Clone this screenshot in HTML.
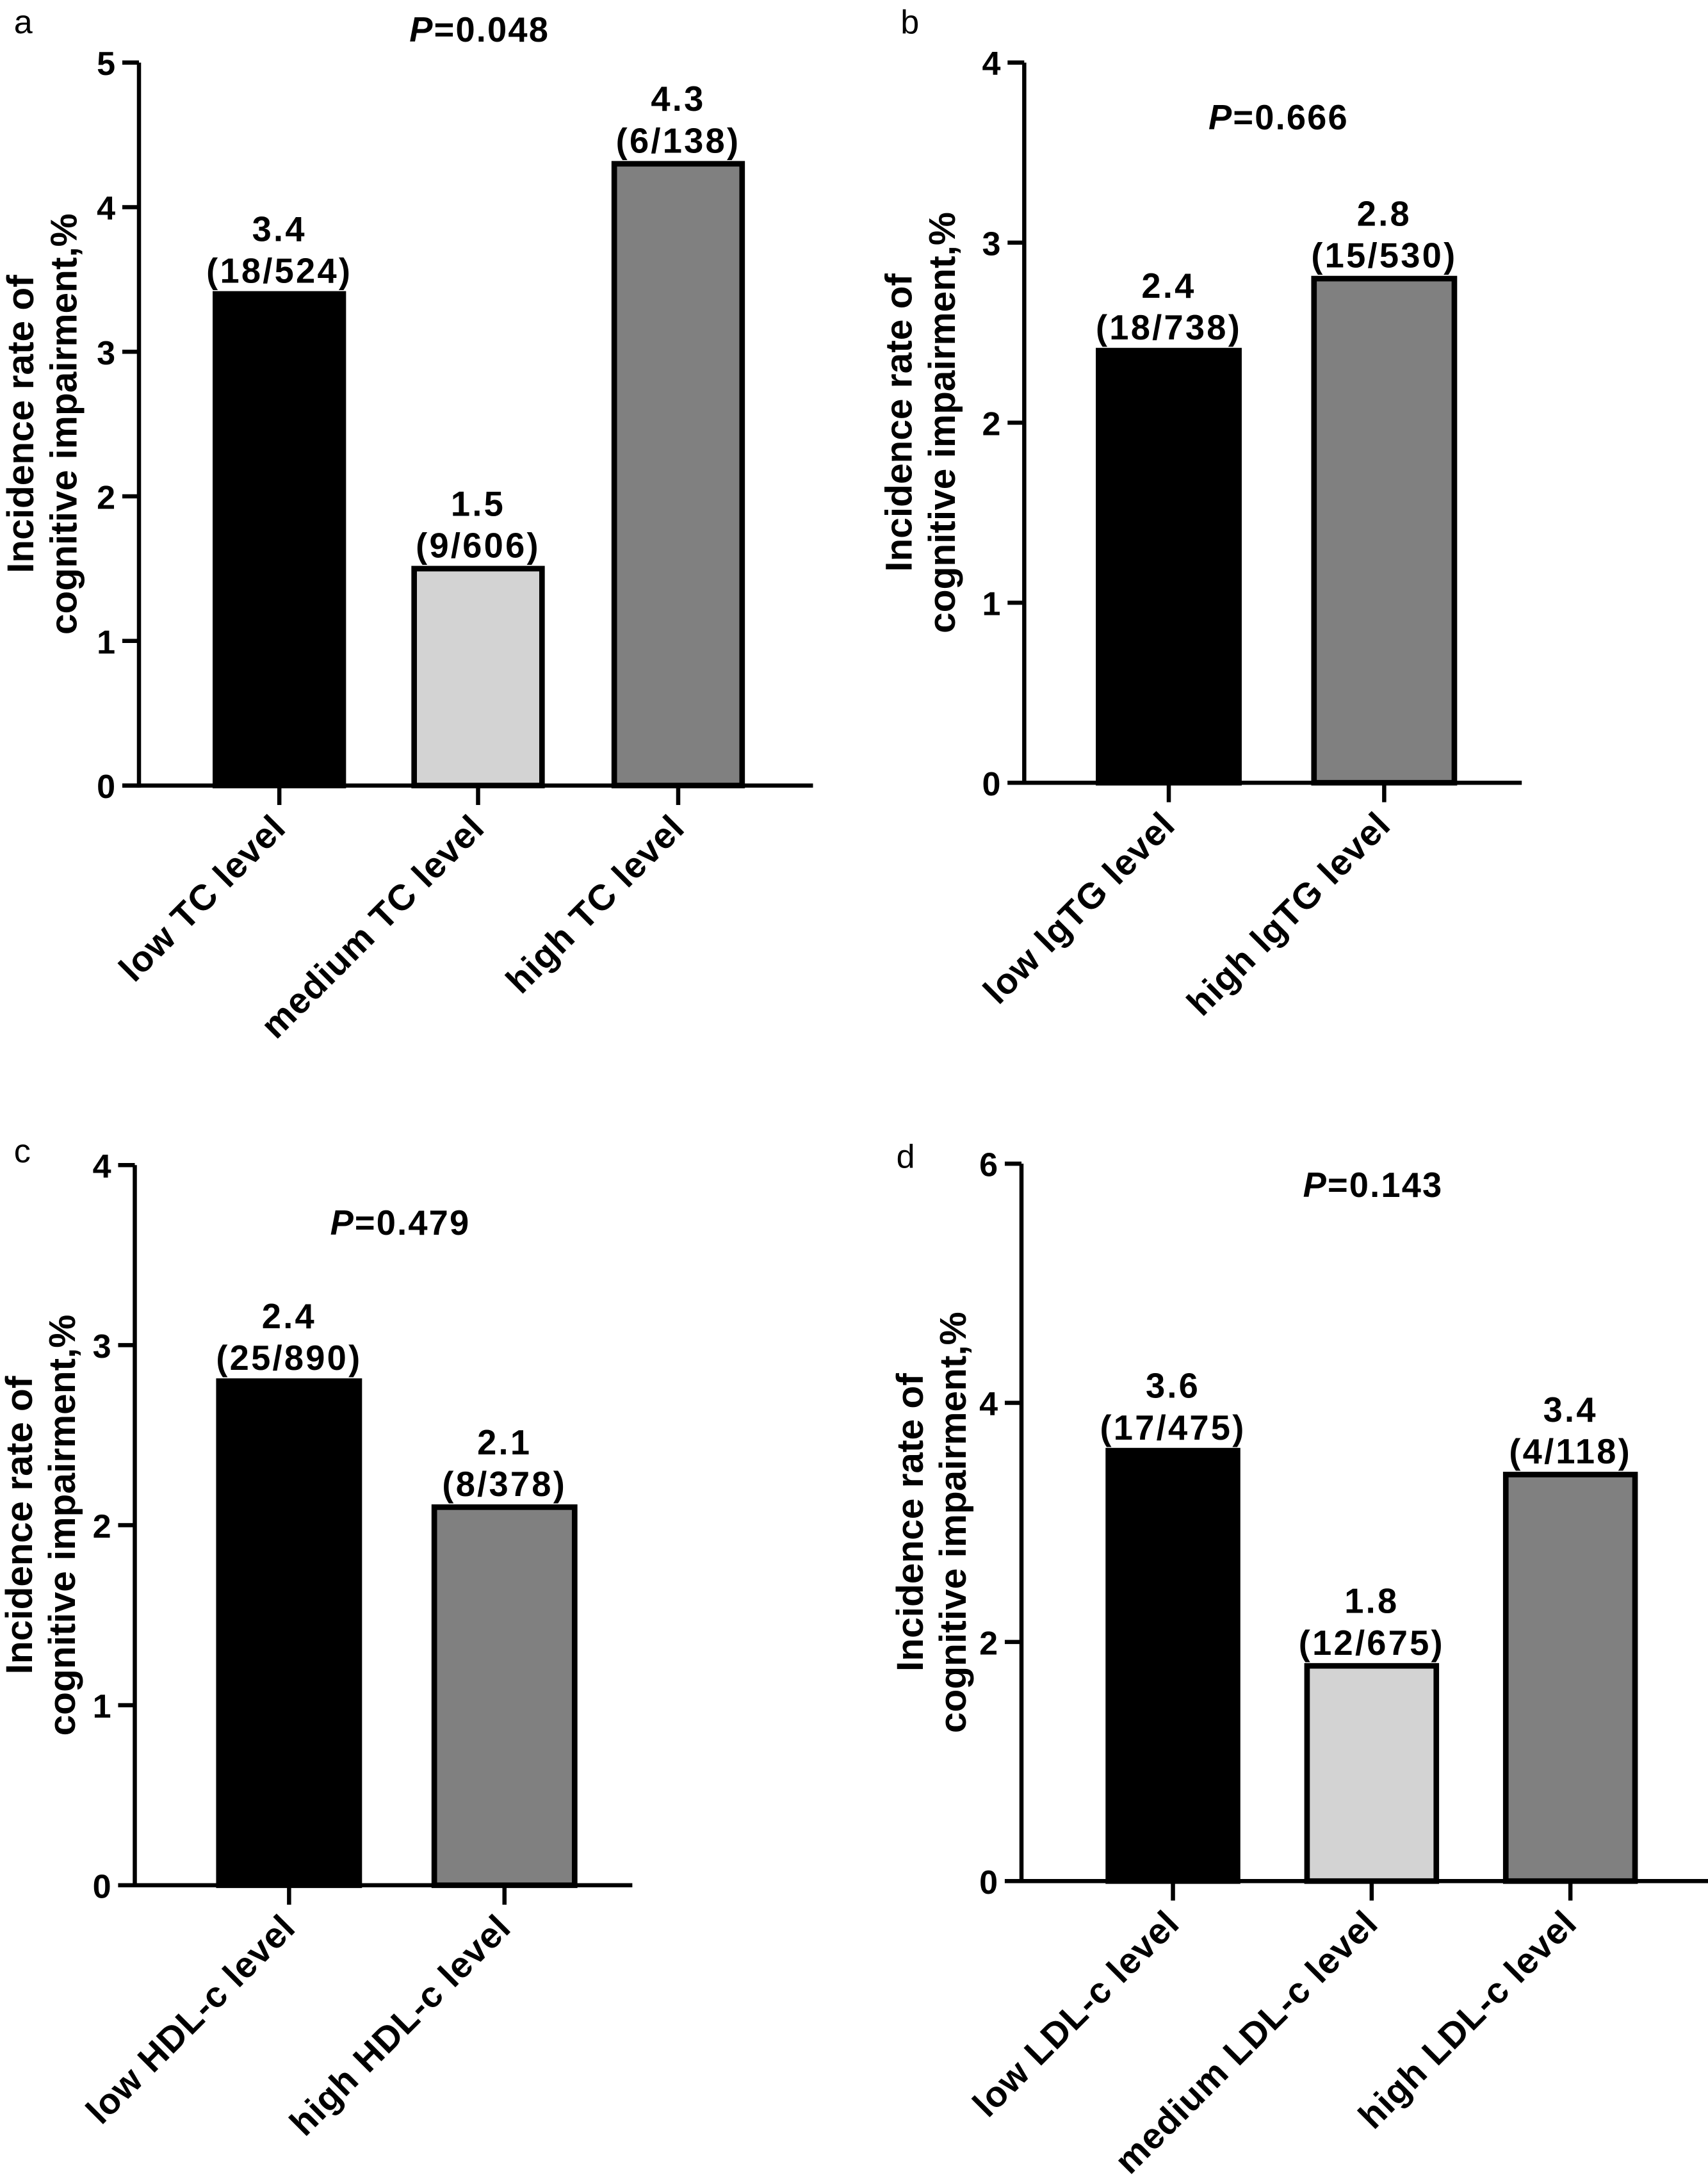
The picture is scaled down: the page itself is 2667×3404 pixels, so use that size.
<!DOCTYPE html>
<html><head><meta charset="utf-8"><style>
html,body{margin:0;padding:0;background:#fff}
svg{display:block}
text{font-family:"Liberation Sans",Arial,sans-serif;font-weight:bold;fill:#000}
</style></head><body>
<svg id="fig" width="2667" height="3404" viewBox="0 0 1229 1568" preserveAspectRatio="none" xmlns="http://www.w3.org/2000/svg"></svg>
<script>
const aCats=["low TC level","medium TC level","high TC level"];
const aVals=[3.4,1.5,4.3];
const aRate=["3.4","1.5","4.3"];
const aCount=["(18/524)","(9/606)","(6/138)"];
const aTicks=[0,1,2,3,4,5];
const bCats=["low lgTG level","high lgTG level"];
const bVals=[2.4,2.8];
const bRate=["2.4","2.8"];
const bCount=["(18/738)","(15/530)"];
const bTicks=[0,1,2,3,4];
const cCats=["low HDL-c level","high HDL-c level"];
const cVals=[2.8,2.1];
const cRate=["2.4","2.1"];
const cCount=["(25/890)","(8/378)"];
const cTicks=[0,1,2,3,4];
const dCats=["low LDL-c level","medium LDL-c level","high LDL-c level"];
const dVals=[3.6,1.8,3.4];
const dRate=["3.6","1.8","3.4"];
const dCount=["(17/475)","(12/675)","(4/118)"];
const dTicks=[0,2,4,6];

const NS="http://www.w3.org/2000/svg";
const svg=document.getElementById('fig');
function mk(tag,attrs,parent,txt){const e=document.createElementNS(NS,tag);for(const k in attrs)e.setAttribute(k,attrs[k]);if(txt!==undefined)e.textContent=txt;(parent||svg).appendChild(e);return e;}

function panel(o){
  const g=mk('g',{});
  
  
  const ymax=o.ticks[o.ticks.length-1];
  const y=v=>o.y0-(o.y0-o.yTop)*v/ymax;
  const t=mk('text',{x:o.letterX,y:o.letterY,'font-size':24,style:'font-weight:normal'},g,o.letter);
  
  
  const ya=mk('line',{x1:o.ax,y1:o.yTop,x2:o.ax,y2:o.y0+1.5,stroke:'#000','stroke-width':3},g);
  
  
  o.ticks.forEach(v=>{
    const tk=mk('line',{x1:o.ax-12,y1:y(v),x2:o.ax,y2:y(v),stroke:'#000','stroke-width':3},g);
    
    
    const tl=mk('text',{x:o.ax-16,y:y(v)+9,'font-size':24,'text-anchor':'end',style:'letter-spacing:1px'},g,String(v));
    
    
  });
  const xa=mk('line',{x1:o.ax-12,y1:o.y0,x2:o.xEnd,y2:o.y0,stroke:'#000','stroke-width':3},g);
  
  
  const cy=(o.y0+o.yTop)/2;
  const yt=mk('text',{transform:`translate(${o.titleX},${cy}) rotate(-90)`,'font-size':27,'text-anchor':'middle'},g);
  
  
  mk('tspan',{x:0,y:0},yt,'Incidence rate of');
  mk('tspan',{x:0,y:31},yt,'cognitive impairment,%');
  const p=mk('text',{x:o.px,y:o.py,'font-size':25,'text-anchor':'middle',style:'letter-spacing:1px'},g);
  
  
  mk('tspan',{'font-style':'italic'},p,'P');
  mk('tspan',{},p,'=0'+o.p);
  o.cats.forEach((c,i)=>{
    const cx=o.centers[i];
    const top=y(o.vals[i]);
    const r=mk('rect',{x:cx-o.bw/2,y:top,width:o.bw,height:o.y0-top,fill:o.fills[i],stroke:'#000','stroke-width':4},g);
    
    
    const l1=mk('text',{x:cx,y:top-38,'font-size':25,'text-anchor':'middle',style:'letter-spacing:1.5px'},g,o.rate[i]);
    
    
    const l2=mk('text',{x:cx,y:top-8,'font-size':25,'text-anchor':'middle',style:'letter-spacing:1.5px'},g,o.count[i]);
    
    
    const tk=mk('line',{x1:cx,y1:o.y0,x2:cx,y2:o.y0+14,stroke:'#000','stroke-width':3},g);
    
    
    const xl=mk('text',{transform:`translate(${cx+6},${o.y0+32}) rotate(-45)`,'font-size':26,'text-anchor':'end',style:'letter-spacing:0.5px'},g,c);
    
    
  });
}
const f3=['#000','#d3d3d3','#808080'], f2=['#000','#808080'];
panel({letter:'a',letterX:10,letterY:24,ax:100,y0:565,yTop:45,xEnd:585,ticks:aTicks,cats:aCats,vals:aVals,rate:aRate,count:aCount,centers:[201,344,488],bw:92,fills:f3,titleX:24,px:345,py:30,p:'.048'});
panel({letter:'b',letterX:648,letterY:24,ax:737,y0:563,yTop:45,xEnd:1095,ticks:bTicks,cats:bCats,vals:bVals,rate:bRate,count:bCount,centers:[841,996],bw:101,fills:f2,titleX:656,px:920,py:93,p:'.666'});
panel({letter:'c',letterX:10,letterY:836,ax:97,y0:1356,yTop:838,xEnd:455,ticks:cTicks,cats:cCats,vals:cVals,rate:cRate,count:cCount,centers:[208,363],bw:101,fills:f2,titleX:23,px:288,py:888,p:'.479'});
panel({letter:'d',letterX:645,letterY:840,ax:735,y0:1353,yTop:837,xEnd:1229,ticks:dTicks,cats:dCats,vals:dVals,rate:dRate,count:dCount,centers:[844,987,1130],bw:93,fills:f3,titleX:664,px:988,py:861,p:'.143'});
</script>
</body></html>
